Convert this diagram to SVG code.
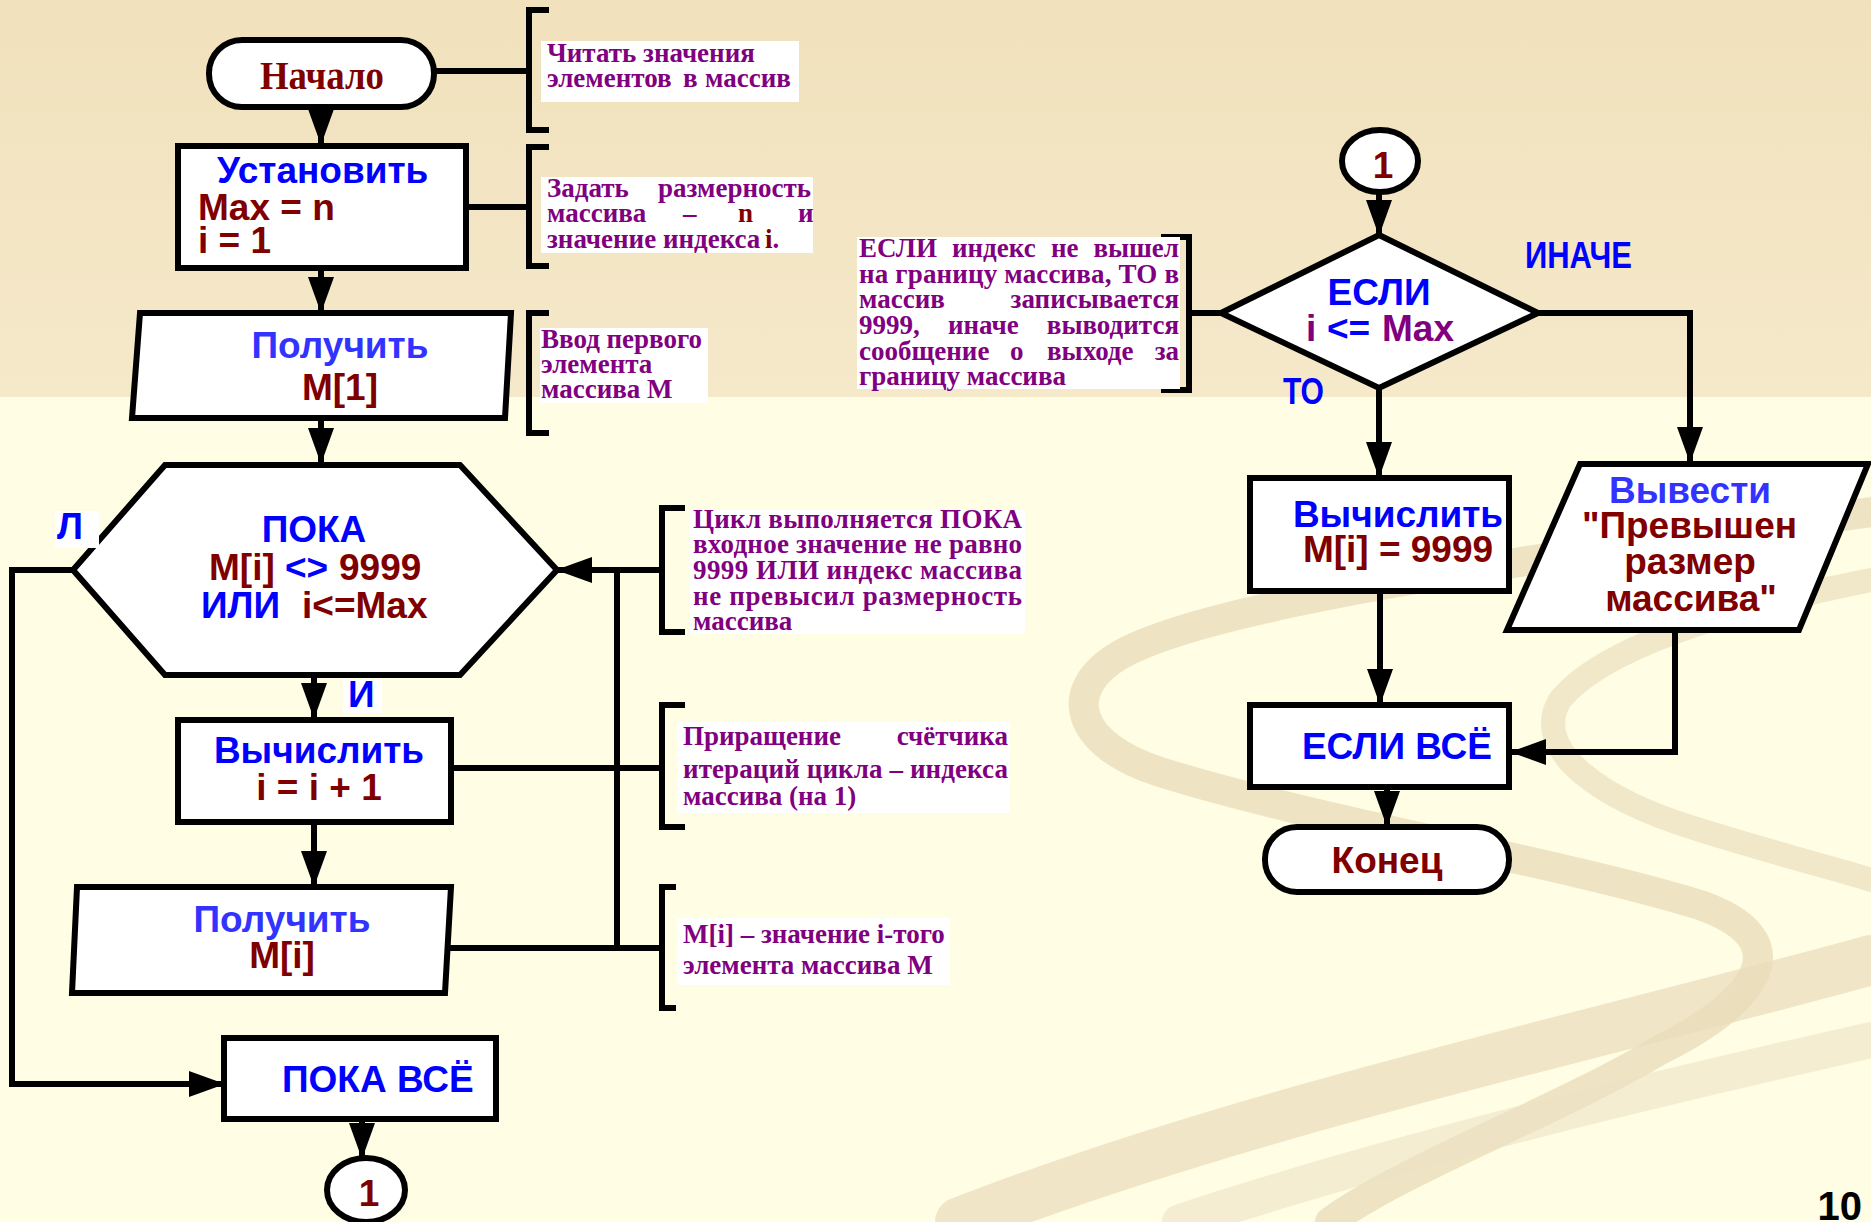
<svg xmlns="http://www.w3.org/2000/svg" width="1871" height="1222" viewBox="0 0 1871 1222">
<style>
.box{fill:#fff;stroke:#000;stroke-width:6}
.ln{fill:none;stroke:#000;stroke-width:6}
.br{fill:none;stroke:#000;stroke-width:6}
.lab{font-family:"Liberation Sans",Arial,sans-serif;font-weight:bold;font-size:37px}
.bl{fill:#0000FF}.lb{fill:#3333FF}.dr{fill:#800000}.pu{fill:#800080}
.ann{font-family:"Liberation Serif","Times New Roman",serif;font-weight:bold;font-size:27px;fill:#800080}
.wb{fill:#fff}
.sw{fill:none;stroke-linecap:round}
</style>
<defs>
<linearGradient id="band" x1="0" y1="0" x2="0" y2="1">
<stop offset="0" stop-color="#F1E1BC"/><stop offset="1" stop-color="#F5E9CA"/>
</linearGradient>
<marker id="ah" markerUnits="userSpaceOnUse" markerWidth="36" markerHeight="26" refX="35" refY="13" orient="auto" viewBox="0 0 36 26">
<path d="M0,0 L36,13 L0,26 z" fill="#000"/>
</marker>
</defs>
<g id="background">
<rect x="0" y="0" width="1871" height="1222" fill="#FFFDE3"/>
<rect x="0" y="0" width="1871" height="397" fill="url(#band)"/>
<path class="sw" d="M1871,512 C1600,550 1220,598 1120,655 C1060,690 1075,745 1160,772 C1320,822 1560,862 1700,905 C1800,940 1760,1000 1660,1050 C1560,1110 1400,1170 1330,1222" stroke="#EADDBB" stroke-width="30" opacity="0.8"/>
<path class="sw" d="M1871,580 C1720,610 1600,650 1560,700 C1530,750 1600,800 1700,830 C1780,855 1840,870 1871,880" stroke="#EDE2C3" stroke-width="24" opacity="0.8"/>
<path class="sw" d="M960,1222 C1250,1110 1580,1040 1871,960" stroke="#E9DCBA" stroke-width="50" opacity="0.7"/>
<path class="sw" d="M1180,1222 C1400,1150 1650,1090 1871,1040" stroke="#EDE2C4" stroke-width="36" opacity="0.6"/>
</g>
<g id="connectors">
<line class="ln" x1="321" y1="107" x2="321" y2="144" marker-end="url(#ah)"/>
<line class="ln" x1="321" y1="268" x2="321" y2="312" marker-end="url(#ah)"/>
<line class="ln" x1="321" y1="418" x2="321" y2="463" marker-end="url(#ah)"/>
<line class="ln" x1="314" y1="675" x2="314" y2="718" marker-end="url(#ah)"/>
<line class="ln" x1="314" y1="822" x2="314" y2="886" marker-end="url(#ah)"/>
<line class="ln" x1="662" y1="570" x2="557" y2="570" marker-end="url(#ah)"/>
<line class="ln" x1="617" y1="570" x2="617" y2="951"/>
<line class="ln" x1="390" y1="948" x2="662" y2="948"/>
<line class="ln" x1="451" y1="768" x2="662" y2="768"/>
<polyline class="ln" points="73,570 12,570 12,1084 224,1084" marker-end="url(#ah)"/>
<line class="ln" x1="362" y1="1120" x2="362" y2="1158" marker-end="url(#ah)"/>
<line class="ln" x1="434" y1="71" x2="529" y2="71"/>
<line class="ln" x1="466" y1="207" x2="529" y2="207"/>
<line class="ln" x1="450" y1="374" x2="510" y2="374"/>
<line class="ln" x1="1379" y1="193" x2="1379" y2="235" marker-end="url(#ah)"/>
<line class="ln" x1="1221" y1="313" x2="1189" y2="313"/>
<line class="ln" x1="1379" y1="388" x2="1379" y2="477" marker-end="url(#ah)"/>
<polyline class="ln" points="1538,313 1690,313 1690,462" marker-end="url(#ah)"/>
<line class="ln" x1="1380" y1="591" x2="1380" y2="704" marker-end="url(#ah)"/>
<polyline class="ln" points="1675,630 1675,752 1511,752" marker-end="url(#ah)"/>
<line class="ln" x1="1387" y1="787" x2="1387" y2="826" marker-end="url(#ah)"/>
</g>
<g id="start">
<rect class="box" x="209" y="40" width="225" height="67" rx="33"/>
<text x="260" y="89" textLength="124" lengthAdjust="spacingAndGlyphs" font-family="Liberation Serif,serif" font-weight="bold" font-size="40" fill="#800000">Начало</text>
</g>
<g id="set">
<rect class="box" x="178" y="146" width="288" height="122"/>
<text class="lab bl" x="217" y="183">Установить</text>
<text class="lab dr" x="198" y="220">Max = n</text>
<text class="lab dr" x="198" y="253">i = 1</text>
</g>
<g id="get1">
<polygon class="box" points="140,313 511,313 505,418 132,418"/>
<text class="lab lb" x="340" y="358" text-anchor="middle">Получить</text>
<text class="lab dr" x="340" y="400" text-anchor="middle">M[1]</text>
</g>
<g id="while">
<polygon class="box" points="165,465 460,465 557,570 460,675 165,675 73,570"/>
<text class="lab bl" x="314" y="542" text-anchor="middle">ПОКА</text>
<text class="lab" y="580"><tspan class="dr" x="209">M[i]</tspan><tspan class="bl" x="285">&lt;&gt;</tspan><tspan class="dr" x="339">9999</tspan></text>
<text class="lab" y="618"><tspan class="bl" x="201">ИЛИ</tspan><tspan class="dr" x="302">i&lt;=Max</tspan></text>
</g>
<g id="label-l">
<rect class="wb" x="55" y="511" width="44" height="37"/>
<text class="lab bl" x="57" y="539" font-size="30">Л</text>
</g>
<g id="label-i">
<rect class="wb" x="343" y="680" width="39" height="33"/>
<text class="lab bl" x="348" y="707" font-size="29">И</text>
</g>
<g id="calc1">
<rect class="box" x="178" y="720" width="273" height="102"/>
<text class="lab bl" x="319" y="763" text-anchor="middle">Вычислить</text>
<text class="lab dr" x="319" y="800" text-anchor="middle">i = i + 1</text>
</g>
<g id="get2">
<polygon class="box" points="77,887 451,887 445,993 72,993"/>
<text class="lab lb" x="282" y="932" text-anchor="middle">Получить</text>
<text class="lab dr" x="282" y="968" text-anchor="middle">M[i]</text>
</g>
<g id="endwhile">
<rect class="box" x="224" y="1038" width="272" height="81"/>
<text class="lab bl" x="282" y="1092">ПОКА ВСЁ</text>
</g>
<g id="conn-out">
<ellipse class="box" cx="366" cy="1190" rx="39" ry="32"/>
<text class="lab dr" x="369" y="1206" text-anchor="middle" font-size="45">1</text>
</g>
<g id="note1">
<path class="br" d="M549,10 H529 V130 H549"/>
<rect class="wb" x="541" y="41" width="258" height="61"/>
<text class="ann"><tspan x="547" y="62">Читать значения</tspan><tspan x="547" y="87">элементов</tspan><tspan x="683" y="87">в</tspan><tspan x="705" y="87">массив</tspan></text>
</g>
<g id="note2">
<path class="br" d="M549,147 H529 V266 H549"/>
<rect class="wb" x="541" y="177" width="272" height="76"/>
<text class="ann"><tspan x="547" y="197">Задать</tspan><tspan x="811" y="197" text-anchor="end">размерность</tspan><tspan x="547" y="222">массива</tspan><tspan x="683" y="222">–</tspan><tspan x="738" y="222" class="dr">n</tspan><tspan x="798" y="222">и</tspan><tspan x="547" y="248">значение индекса </tspan><tspan class="dr" x="765" y="248">i</tspan><tspan>.</tspan></text>
</g>
<g id="note3">
<path class="br" d="M549,313 H529 V433 H549"/>
<rect class="wb" x="540" y="328" width="168" height="75"/>
<text class="ann"><tspan x="541" y="348">Ввод первого</tspan><tspan x="541" y="373">элемента</tspan><tspan x="541" y="398">массива M</tspan></text>
</g>
<g id="note4">
<path class="br" d="M685,508 H662 V632 H685"/>
<rect class="wb" x="690" y="510" width="335" height="124"/>
<text class="ann" x="693" y="528" textLength="329" lengthAdjust="spacing">Цикл выполняется ПОКА</text>
<text class="ann" x="693" y="553" textLength="329" lengthAdjust="spacing">входное значение не равно</text>
<text class="ann" x="693" y="579" textLength="329" lengthAdjust="spacing">9999 ИЛИ индекс массива</text>
<text class="ann" x="693" y="605" textLength="329" lengthAdjust="spacing">не превысил размерность</text>
<text class="ann" x="693" y="630">массива</text>
</g>
<g id="note5">
<path class="br" d="M685,705 H662 V827 H685"/>
<rect class="wb" x="677" y="722" width="333" height="91"/>
<text class="ann"><tspan x="683" y="745">Приращение</tspan><tspan x="1008" y="745" text-anchor="end">счётчика</tspan></text>
<text class="ann" x="683" y="778" textLength="325" lengthAdjust="spacing">итераций цикла – индекса</text>
<text class="ann" x="683" y="805">массива (на 1)</text>
</g>
<g id="note6">
<path class="br" d="M676,887 H662 V1008 H676"/>
<rect class="wb" x="677" y="918" width="273" height="67"/>
<text class="ann"><tspan x="683" y="943">M[i] – значение i-того</tspan><tspan x="683" y="974">элемента массива M</tspan></text>
</g>
<g id="conn-in">
<ellipse class="box" cx="1380" cy="161" rx="38" ry="31"/>
<text class="lab dr" x="1383" y="178" text-anchor="middle" font-size="45">1</text>
</g>
<g id="if">
<polygon class="box" points="1379,235 1538,313 1379,388 1221,313"/>
<text class="lab bl" x="1379" y="305" text-anchor="middle">ЕСЛИ</text>
<text class="lab" y="341"><tspan class="pu" x="1306">i</tspan><tspan class="bl" x="1327">&lt;=</tspan><tspan class="pu" x="1382">Max</tspan></text>
</g>
<g id="note7">
<path class="br" d="M1161,237 H1189 V390 H1161"/>
<rect class="wb" x="857" y="237" width="323" height="152"/>
<text class="ann"><tspan x="859" y="257">ЕСЛИ</tspan><tspan x="952" y="257">индекс</tspan><tspan x="1051" y="257">не</tspan><tspan x="1179" y="257" text-anchor="end">вышел</tspan></text>
<text class="ann" x="859" y="283" textLength="320" lengthAdjust="spacing">на границу массива, ТО в</text>
<text class="ann"><tspan x="859" y="308">массив</tspan><tspan x="1179" y="308" text-anchor="end">записывается</tspan></text>
<text class="ann"><tspan x="859" y="334">9999,</tspan><tspan x="948" y="334">иначе</tspan><tspan x="1179" y="334" text-anchor="end">выводится</tspan></text>
<text class="ann"><tspan x="859" y="360">сообщение</tspan><tspan x="1010" y="360">о</tspan><tspan x="1047" y="360">выходе</tspan><tspan x="1179" y="360" text-anchor="end">за</tspan></text>
<text class="ann" x="859" y="385">границу массива</text>
</g>
<g id="label-to">
<text class="lab bl" x="1283" y="404" font-size="29" textLength="41" lengthAdjust="spacingAndGlyphs">ТО</text>
</g>
<g id="label-else">
<text class="lab bl" x="1525" y="268" font-size="28" textLength="107" lengthAdjust="spacingAndGlyphs">ИНАЧЕ</text>
</g>
<g id="calc2">
<rect class="box" x="1250" y="478" width="259" height="113"/>
<text class="lab bl" x="1398" y="527" text-anchor="middle">Вычислить</text>
<text class="lab dr" x="1398" y="562" text-anchor="middle">M[i] = 9999</text>
</g>
<g id="output">
<polygon class="box" points="1580,464 1868,464 1799,630 1507,630"/>
<text class="lab lb" x="1690" y="503" text-anchor="middle">Вывести</text>
<text class="lab dr" x="1582" y="538" textLength="215" lengthAdjust="spacingAndGlyphs">"Превышен</text>
<text class="lab dr" x="1690" y="574" text-anchor="middle">размер</text>
<text class="lab dr" x="1691" y="611" text-anchor="middle">массива"</text>
</g>
<g id="endif">
<rect class="box" x="1250" y="705" width="259" height="82"/>
<text class="lab bl" x="1397" y="759" text-anchor="middle">ЕСЛИ ВСЁ</text>
</g>
<g id="end">
<rect class="box" x="1265" y="827" width="244" height="65" rx="32"/>
<text class="lab dr" x="1387" y="873" text-anchor="middle">Конец</text>
</g>
<g id="page">
<text x="1862" y="1220" text-anchor="end" font-family="Liberation Sans,sans-serif" font-weight="bold" font-size="40" fill="#000">10</text>
</g>
</svg>
